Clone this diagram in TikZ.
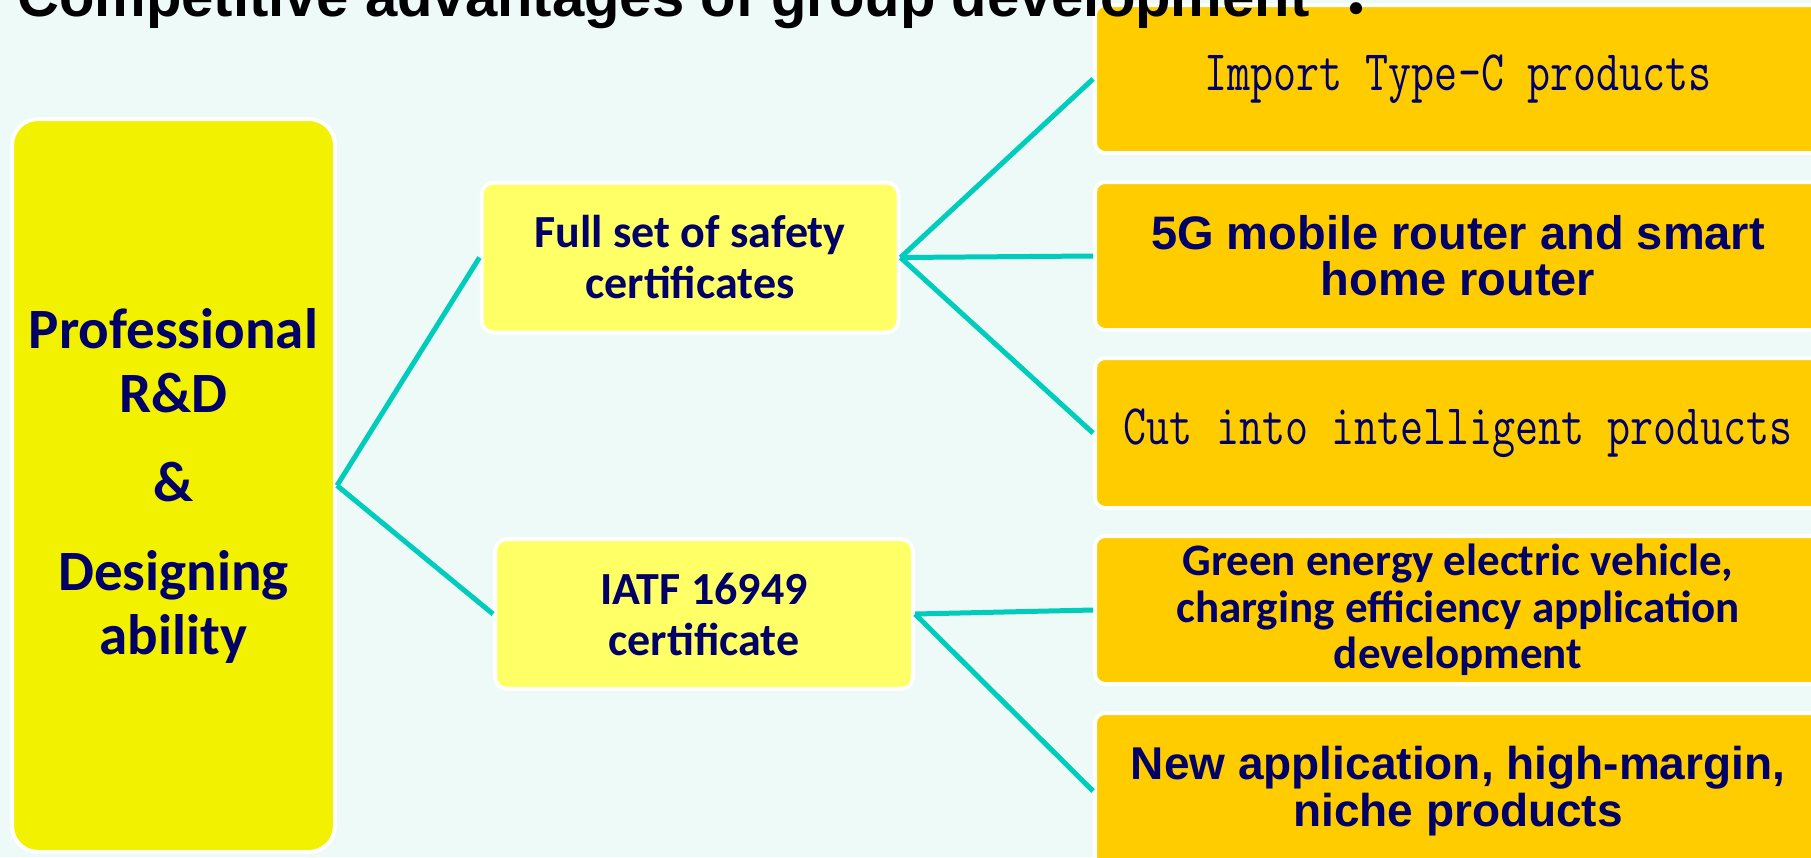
\documentclass[tikz,border=0pt]{standalone}
\usepackage{fontspec}
\usepackage{graphicx}
\usepackage{tikz}
\usetikzlibrary{positioning}
\newfontfamily\fcal{Carlito}
\newfontfamily\farial{Liberation Sans}
\newfontfamily\fcjk{Noto Sans CJK TC}
\definecolor{mbg}{RGB}{237, 250, 248}
\definecolor{mnavy}{RGB}{0, 0, 102}
\definecolor{myellow}{RGB}{242, 242, 0}
\definecolor{mlight}{RGB}{255, 255, 102}
\definecolor{morange}{RGB}{255, 204, 0}
\definecolor{mteal}{RGB}{0, 204, 188}
\tikzset{box/.style = {draw=white, line width=4pt, rounded corners=12pt, text=mnavy,
                       align=center, inner sep=0pt},
         mainbox/.style = {box, fill=myellow, minimum width=323pt, minimum height=733pt,
                           rounded corners=26pt, font=\fcal\bfseries\fontsize{57}{64}\selectfont},
         certbox/.style = {box, fill=mlight, minimum width=417pt, minimum height=150pt,
                           font=\fcal\bfseries\fontsize{46}{51}\selectfont},
         appbox/.style = {box, fill=morange, minimum width=726pt, minimum height=148pt,
                          rounded corners=10pt},
         link/.style = {mteal, line width=5pt}}
\newcommand{\monotext}[1]{\raisebox{-5pt}{\scalebox{0.895}[1.146]{\ttfamily\fontsize{50}{60}\selectfont #1}}}

\begin{document}
\begin{tikzpicture}[x=1pt, y=-1pt]
      \clip (0, 0) rectangle (1811, 857);
      \fill [mbg] (0, 0) rectangle (1811, 857);

      \node [mainbox] (rd) at (173.5, 485.5) {Professional\\R\&D\\[25pt]\&\\[25pt]Designing\\ability};

      \node [certbox] (safety) at (690, 257.5) {Full set of safety\\certificates};
      \node [certbox, minimum width=418pt] (iatf) at (704, 614) {IATF 16949\\certificate};

      \node [appbox] (typec) at (1458, 79) {\monotext{Import Type-C products}};
      \node [appbox, font=\farial\bfseries\fontsize{47}{46}\selectfont] (router) at (1458, 256) {5G mobile router and smart\\home router};
      \node [appbox, minimum height=150pt] (smart) at (1458, 433) {\monotext{Cut into intelligent products}};
      \node [appbox, font=\fcal\bfseries\fontsize{45}{46.5}\selectfont] (green) at (1458, 610) {Green energy electric vehicle,\\charging efficiency application\\development};
      \node [appbox, minimum height=156pt, font=\farial\bfseries\fontsize{46}{47}\selectfont] (niche) at (1458, 791) {New application, high-margin,\\niche products};

      \draw [link] (rd.east) -- (safety.west);
      \draw [link] (rd.east) -- (iatf.west);

      \draw [link] (safety.east) -- (typec.west);
      \draw [link] (safety.east) -- (router.west);
      \draw [link] (safety.east) -- (smart.west);

      \draw [link] (iatf.east) -- (green.west);
      \draw [link] (iatf.east) -- (niche.west);

      \node [anchor=base west, inner sep=0pt, font=\farial\bfseries\fontsize{58}{64}\selectfont] (title) at (17, 16) {Competitive advantages of group development\hspace{18pt}{\fcjk ：}};
\end{tikzpicture}
\end{document}
